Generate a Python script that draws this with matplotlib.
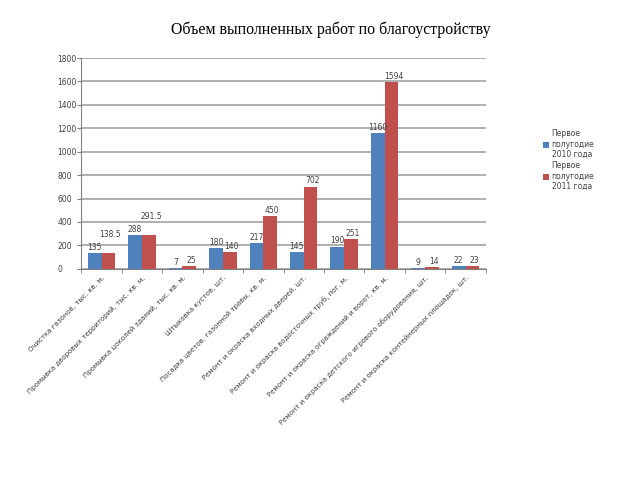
import matplotlib
matplotlib.use("Agg")
import matplotlib.pyplot as plt
import numpy as np

categories = [
    "Очистка газонов, тыс. кв. м.",
    "Промывка дворовых территорий, тыс. кв. м.",
    "Промывка цоколей зданий, тыс. кв. м.",
    "Штыковка кустов, шт.",
    "Посадка цветов, газонной травы, кв. м.",
    "Ремонт и окраска входных дверей, шт.",
    "Ремонт и окраска водосточных труб, пог. м.",
    "Ремонт и окраска ограждений и ворот, кв. м.",
    "Ремонт и окраска детского игрового оборудования, шт.",
    "Ремонт и окраска контейнерных площадок, шт.",
]
values_2010 = [135, 288, 7, 180, 217, 145, 190, 1160, 9, 22]
values_2011 = [138.5, 291.5, 25, 140, 450, 702, 251, 1594, 14, 23]
labels_2010 = ["135", "288", "7", "180", "217", "145", "190", "1160", "9", "22"]
labels_2011 = ["138.5", "291.5", "25", "140", "450", "702", "251", "1594", "14", "23"]
series_names = ["Первое\nполугодие\n2010 года", "Первое\nполугодие\n2011 года"]
title = "Объем выполненных работ по благоустройству"

blue = "#4F81BD"
red = "#C0504D"

fig = plt.figure(figsize=(6.4, 4.8), dpi=100)
ax = fig.add_axes([0.127, 0.44, 0.632, 0.439])

x = np.arange(len(categories))
w = 0.34
b1 = ax.bar(x - w / 2, values_2010, w, color=blue, label=series_names[0], zorder=3)
b2 = ax.bar(x + w / 2, values_2011, w, color=red, label=series_names[1], zorder=3)

for rect, lab in zip(b1, labels_2010):
    ax.text(rect.get_x() + rect.get_width() / 2, rect.get_height() + 10, lab,
            ha="center", va="bottom", fontsize=5.5, color="#404040", zorder=4)
for rect, lab, lab1, v1 in zip(b2, labels_2011, labels_2010, values_2010):
    y = rect.get_height() + 10
    # lift the label when it would collide with the neighbouring one
    if abs(rect.get_height() - v1) < 60 and len(lab) + len(lab1) > 6:
        y += 110
    ax.text(rect.get_x() + rect.get_width() / 2 + 0.05, y, lab,
            ha="center", va="bottom", fontsize=5.5, color="#404040", zorder=4)

ax.set_xlim(-0.5, len(categories) - 0.5)
ax.set_ylim(0, 1800)
ax.set_yticks(np.arange(0, 1801, 200))
ax.tick_params(axis="y", labelsize=5.5, labelcolor="#404040", length=3,
               color="#808080", pad=14)
for t in ax.get_yticklabels():
    t.set_horizontalalignment("left")
ax.grid(axis="y", color="#9a9a9a", linewidth=1.1, zorder=0)

ax.set_xticks(x)
ax.set_xticklabels(categories, rotation=45, ha="right", rotation_mode="anchor",
                   fontsize=5, color="#404040")
ax.tick_params(axis="x", length=0, pad=4)
ax.set_xticks(np.arange(-0.5, len(categories), 1), minor=True)
ax.tick_params(axis="x", which="minor", length=3, color="#808080")

for s in ["top", "right"]:
    ax.spines[s].set_visible(False)
ax.spines["left"].set_color("#808080")
ax.spines["bottom"].set_color("#808080")
ax.spines["left"].set_linewidth(0.8)
ax.spines["bottom"].set_linewidth(0.8)

fig.text(0.517, 0.937, title, ha="center", va="center", fontsize=11.4,
         family="Liberation Serif", color="#000000")

fig.legend(loc="upper left", bbox_to_anchor=(0.838, 0.745), frameon=False,
           fontsize=5.5, handlelength=0.7, handleheight=0.7, handletextpad=0.4,
           labelspacing=0.3, labelcolor="#404040")

fig.savefig("out.png", dpi=100)
